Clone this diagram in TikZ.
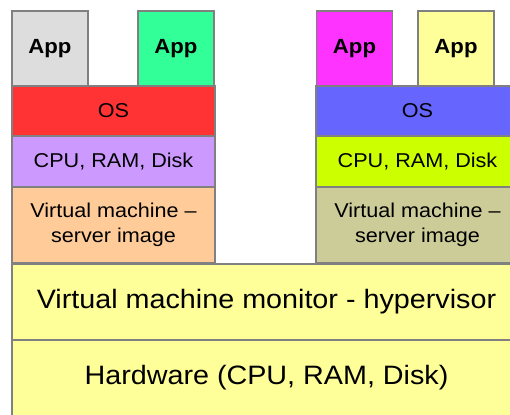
\documentclass[tikz,border=0pt]{standalone}
\usepackage{fontspec}
\setmainfont{Liberation Sans}[FakeStretch=1.08]
\definecolor{edge}{HTML}{808080}
\definecolor{appgray}{HTML}{DDDDDD}
\definecolor{appgreen}{HTML}{33FF99}
\definecolor{appmag}{HTML}{FF33FF}
\definecolor{appyel}{HTML}{FFFF99}
\definecolor{osred}{HTML}{FF3333}
\definecolor{osblue}{HTML}{6666FF}
\definecolor{cpupurple}{HTML}{CC99FF}
\definecolor{cpulime}{HTML}{CCFF00}
\definecolor{vmpeach}{HTML}{FFCC99}
\definecolor{vmkhaki}{HTML}{CCCC99}
\definecolor{basey}{HTML}{FFFF99}
\tikzset{
  blk/.style={draw=edge, line width=1.6pt, inner sep=0pt, align=center,
    font=\fontsize{20}{25}\selectfont},
  appbox/.style={blk, font=\fontsize{20.5}{25}\selectfont\bfseries},
  bigbox/.style={blk, fill=basey, font=\fontsize{26.6}{30}\selectfont},
}
\begin{document}
\begin{tikzpicture}[x=1pt, y=-1pt]
  \useasboundingbox (0,0) rectangle (510,414);
  \clip (0,0) rectangle (510,414);
  % host layers
  \node[bigbox, minimum width=509pt, minimum height=76pt] (hyp) at (266.5,302) {Virtual machine monitor - hypervisor};
  \node[bigbox, minimum width=509pt, minimum height=76pt] (hw) at (266.5,378) {Hardware (CPU, RAM, Disk)};
  % first virtual machine
  \node[blk, fill=vmpeach, minimum width=203pt, minimum height=76pt] (vm1) at (113.5,225) {Virtual machine --\\server image};
  \node[blk, fill=cpupurple, minimum width=203pt, minimum height=51pt] (cpu1) at (113.5,161.5) {CPU, RAM, Disk};
  \node[blk, fill=osred, minimum width=203pt, minimum height=50pt] (os1) at (113.5,111) {OS};
  \node[appbox, fill=appgray, minimum width=76pt, minimum height=75pt] (app1) at (50,48.5) {App};
  \node[appbox, fill=appgreen, minimum width=76pt, minimum height=75pt] (app2) at (176,48.5) {App};
  % second virtual machine
  \node[blk, fill=vmkhaki, minimum width=203pt, minimum height=76pt] (vm2) at (417.5,225) {Virtual machine --\\server image};
  \node[blk, fill=cpulime, minimum width=203pt, minimum height=51pt] (cpu2) at (417.5,161.5) {CPU, RAM, Disk};
  \node[blk, fill=osblue, minimum width=203pt, minimum height=50pt] (os2) at (417.5,111) {OS};
  \node[appbox, fill=appmag, minimum width=76pt, minimum height=75pt] (app3) at (354.5,48.5) {App};
  \node[appbox, fill=appyel, minimum width=76pt, minimum height=75pt] (app4) at (456,48.5) {App};
\end{tikzpicture}
\end{document}
